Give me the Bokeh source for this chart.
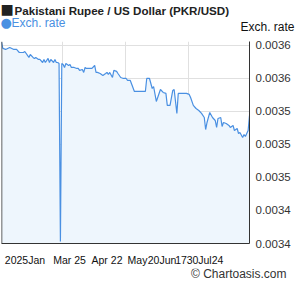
import pandas as pd
from bokeh.plotting import figure
from bokeh.layouts import column, row
from bokeh.models import FixedTicker, Range1d, Label, Span, ColumnDataSource
from bokeh.embed import file_html
from bokeh.resources import INLINE

TITLE = "Pakistani Rupee / US Dollar (PKR/USD)"
SERIES = "Exch. rate"
CREDIT = "\u00a9 Chartoasis.com"
START = "2025-01-24"

# day offsets from START and PKR/USD rate
DAYS = [0, 1, 3, 6, 9, 11, 13, 16, 17, 20, 21, 23, 24, 25, 27, 28, 30, 31, 32, 34,
        35, 36, 38, 39, 40, 41, 42, 43, 44, 45, 46, 47, 49, 50, 51, 53, 55, 56, 57, 59,
        60, 61, 62, 64, 66, 68, 69, 70, 72, 74, 76, 77, 78, 79, 81, 82, 84, 85, 87, 89,
        91, 92, 94, 97, 105, 106, 108, 110, 111, 113, 116, 118, 120, 121, 123, 125, 126, 128, 129, 132,
        135, 137, 138, 140, 142, 144, 146, 148, 149, 150, 152, 154, 156, 157, 158, 160, 161, 162, 164, 166,
        167, 169, 170, 172, 173, 174, 176, 177, 178, 179, 180, 181]
RATE = [0.0036030, 0.0035973, 0.0035964, 0.0035982, 0.0035964, 0.0035964, 0.0035936, 0.0035936, 0.0035945, 0.0035891,
        0.0035918, 0.0035891, 0.0035882, 0.0035891, 0.0035873, 0.0035873, 0.0035845, 0.0035873, 0.0035845, 0.0035882,
        0.0035845, 0.0035873, 0.0035845, 0.0035873, 0.0035845, 0.0035845, 0.0035836, 0.0034218, 0.0035836, 0.0035827,
        0.0035800, 0.0035836, 0.0035818, 0.0035827, 0.0035800, 0.0035800, 0.0035791, 0.0035791, 0.0035773, 0.0035782,
        0.0035755, 0.0035800, 0.0035791, 0.0035791, 0.0035791, 0.0035818, 0.0035755, 0.0035755, 0.0035745, 0.0035727,
        0.0035745, 0.0035755, 0.0035736, 0.0035755, 0.0035709, 0.0035773, 0.0035764, 0.0035745, 0.0035709, 0.0035700,
        0.0035700, 0.0035682, 0.0035682, 0.0035582, 0.0035582, 0.0035700, 0.0035700, 0.0035609, 0.0035627, 0.0035491,
        0.0035600, 0.0035573, 0.0035564, 0.0035455, 0.0035455, 0.0035591, 0.0035600, 0.0035382, 0.0035564, 0.0035564,
        0.0035564, 0.0035555, 0.0035527, 0.0035455, 0.0035427, 0.0035409, 0.0035382, 0.0035345, 0.0035236, 0.0035300,
        0.0035391, 0.0035345, 0.0035318, 0.0035255, 0.0035336, 0.0035345, 0.0035264, 0.0035300, 0.0035291, 0.0035273,
        0.0035255, 0.0035273, 0.0035227, 0.0035245, 0.0035200, 0.0035209, 0.0035164, 0.0035191, 0.0035173, 0.0035200,
        0.0035227, 0.0035364]

Y_TICKS = [0.00342, 0.00345, 0.00348, 0.00351, 0.00354, 0.00357, 0.00360]
Y_LABELS = ["0.0034", "0.0034", "0.0035", "0.0035", "0.0035", "0.0036", "0.0036"]
X_TICK_DAYS = [17.15, 49.63, 77.0, 99.26, 110.94, 121.52, 131.01, 139.4, 148.52, 157.65]
X_LABELS = ["2025Jan", "Mar 25", "Apr 22", "May", "20", "Jun", "17", "30", "Jul", "24"]
X_GRID_DAYS = [44.5, 90.5, 136.5]

base = pd.Timestamp(START)
def to_ms(d):
    return (base + pd.to_timedelta(d, unit="D")).value / 1e6

xs = [to_ms(d) for d in DAYS]
src = ColumnDataSource(dict(x=xs, y=RATE, y0=[Y_TICKS[0]] * len(RATE)))

x0, x1 = to_ms(DAYS[0]), to_ms(DAYS[-1])
y0, y1 = 0.00342, 0.0036036

FONT = "Liberation Sans"


def strip(h):
    """A text-only strip whose frame spans the whole strip (page pixels = data units)."""
    f = figure(width=295, height=h, output_backend="svg", toolbar_location=None,
               x_range=Range1d(0, 295), y_range=Range1d(h, 0),
               x_axis_location=None, y_axis_location=None,
               min_border_left=0, min_border_right=0, min_border_top=0, min_border_bottom=0)
    f.outline_line_color = None
    f.xgrid.visible = False
    f.ygrid.visible = False
    return f


# ---- header ----
TOP_H = 38
top = strip(TOP_H)
top.add_layout(Label(x=0, y=16, text="\u25a0", text_font="DejaVu Sans", text_font_size="14px",
                     text_color="#222222"))
top.add_layout(Label(x=14, y=16, text=TITLE, text_font=FONT, text_font_size="11.6px",
                     text_font_style="bold", text_color="#222222"))
top.add_layout(Label(x=0, y=29, text="\u25cf", text_font="DejaVu Sans", text_font_size="13px",
                     text_color="#4a90e2"))
top.add_layout(Label(x=11, y=29, text=SERIES, text_font=FONT, text_font_size="12px",
                     text_color="#4a90e2"))
top.add_layout(Label(x=240, y=33, text=SERIES, text_font=FONT, text_font_size="12px",
                     text_color="#111111"))

# ---- main chart ----
MAIN_H = 230
p = figure(width=295, height=MAIN_H, output_backend="svg", toolbar_location=None,
           x_axis_type="datetime", x_range=Range1d(x0, x1), y_range=Range1d(y0, y1),
           y_axis_location="right", min_border_left=1, min_border_right=46,
           min_border_top=3, min_border_bottom=MAIN_H - 3 - 202)
p.outline_line_color = None

p.varea(x="x", y1="y0", y2="y", source=src, fill_color="#eef6fd")
p.line(x="x", y="y", source=src, line_color="#4a90e2", line_width=1.2)

ya = p.yaxis[0]
ya.ticker = FixedTicker(ticks=Y_TICKS)
ya.major_label_overrides = {t: l for t, l in zip(Y_TICKS, Y_LABELS)}
ya.major_tick_line_color = None
ya.minor_tick_line_color = None
ya.major_tick_out = 0
ya.major_tick_in = 0
ya.minor_tick_out = 0
ya.axis_line_color = "#333333"
ya.major_label_text_font = FONT
ya.major_label_text_font_size = "11.5px"
ya.major_label_text_color = "#333333"
ya.major_label_standoff = 6

xticks = [to_ms(d) for d in X_TICK_DAYS]
xa = p.xaxis[0]
xa.ticker = FixedTicker(ticks=xticks)
xa.major_label_overrides = {t: l for t, l in zip(xticks, X_LABELS)}
xa.major_tick_line_color = None
xa.minor_tick_line_color = None
xa.major_tick_out = 0
xa.major_tick_in = 0
xa.minor_tick_out = 0
xa.axis_line_color = "#333333"
xa.major_label_text_font = FONT
xa.major_label_text_font_size = "10.5px"
xa.major_label_text_color = "#111111"
xa.major_label_standoff = 10

p.xgrid.ticker = FixedTicker(ticks=[to_ms(d) for d in X_GRID_DAYS])
p.xgrid.grid_line_color = "#e0e0e0"
p.ygrid.ticker = FixedTicker(ticks=Y_TICKS)
p.ygrid.grid_line_color = "#e0e0e0"

p.add_layout(Span(location=x0, dimension="height", line_color="#333333", line_width=1.5))

# ---- footer ----
BOT_H = 288 - TOP_H - MAIN_H
bot = strip(BOT_H)
bot.add_layout(Label(x=286, y=12, text=CREDIT, text_font=FONT, text_font_size="12px",
                     text_color="#333333", text_align="right"))

layout = column(row(top), p, row(bot), spacing=0)
open("out.html", "w").write(file_html(layout, INLINE))
